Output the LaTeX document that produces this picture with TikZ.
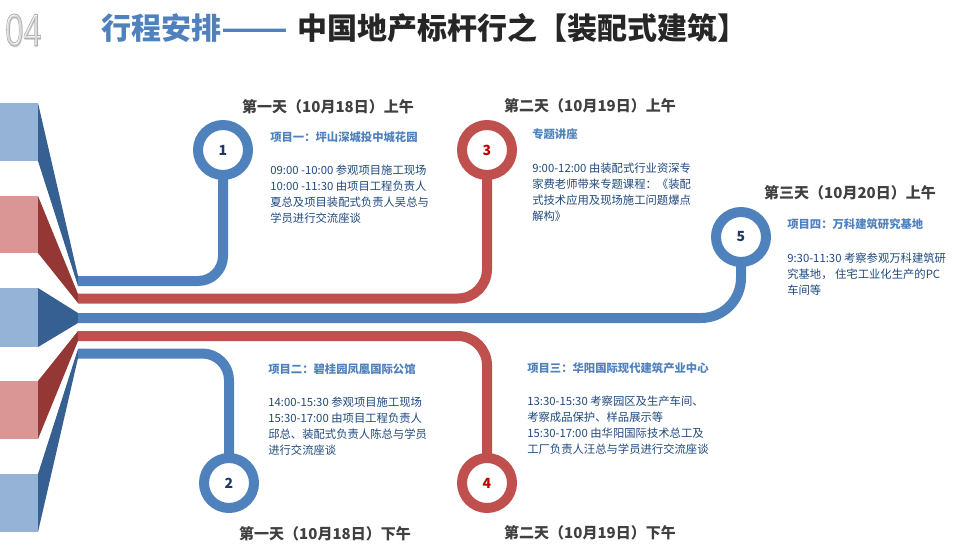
\documentclass[tikz,border=0pt]{standalone}
\usepackage{graphicx}
\usepackage{fontspec}
\setmainfont{Noto Sans CJK SC}
\newfontfamily\numfont{Liberation Sans}
\definecolor{blu}{HTML}{4F81BD}
\definecolor{rd}{HTML}{C0504D}
\definecolor{lblu}{HTML}{95B3D7}
\definecolor{lrd}{HTML}{D99694}
\definecolor{dblu}{HTML}{376092}
\definecolor{drd}{HTML}{953735}
\definecolor{navy}{HTML}{1F3864}
\definecolor{numred}{HTML}{C00000}
\definecolor{daygray}{HTML}{404040}
\definecolor{ttlblack}{HTML}{262626}
\definecolor{bodyblue}{HTML}{1F497D}
\tikzset{
 ring/.style={circle, draw=#1, line width=7.5pt, fill=white, minimum size=37.5pt, inner sep=0pt, outer sep=0pt, font=\bfseries\fontsize{10.5}{12}\selectfont},
 band/.style={draw=#1, line width=7.5pt},
 daylabel/.style={font=\bfseries\fontsize{11.25}{13}\selectfont, text=daygray, inner sep=0pt},
 ptitle/.style={anchor=west, font=\bfseries\fontsize{8.5}{12}\selectfont, text=blu, inner sep=0pt},
 pbody/.style={anchor=north west, align=left, font=\fontsize{8.5}{12}\selectfont, text=bodyblue, inner sep=0pt},
}
\begin{document}
\begin{tikzpicture}[x=0.75pt,y=-0.75pt]
\useasboundingbox (0,0) rectangle (956,556);

% title
\node[anchor=west, inner sep=0pt, font=\bfseries\fontsize{22.5}{24}\selectfont, text=blu] (title1) at (101,28)
  {行程安排\scalebox{1.3}[1]{——}};
\node[anchor=west, inner sep=0pt, font=\bfseries\fontsize{22.5}{24}\selectfont, text=ttlblack] (title2) at (297,28)
  {中国地产标杆行之【装配式建筑】};

% left blocks and wedges
\fill[dblu] (38,103) -- (78,276) -- (78,286) -- (38,161) -- cycle;
\fill[lblu] (0,103) rectangle (38,161);
\fill[drd] (38,196) -- (78,294) -- (78,303) -- (38,253) -- cycle;
\fill[lrd] (0,196) rectangle (38,253);
\fill[dblu] (38,288) -- (78,313) -- (78,323) -- (38,347) -- cycle;
\fill[lblu] (0,288) rectangle (38,347);
\fill[drd] (38,381) -- (78,331) -- (78,341) -- (38,439) -- cycle;
\fill[lrd] (0,381) rectangle (38,439);
\fill[dblu] (38,474) -- (78,349) -- (78,358) -- (38,532) -- cycle;
\fill[lblu] (0,474) rectangle (38,532);

\coordinate (s1) at (78,281);
\coordinate (s2) at (78,298.5);
\coordinate (s3) at (78,318);
\coordinate (s4) at (78,336);
\coordinate (s5) at (78,353.5);

% rings
\node[ring=blu, text=navy] (r1) at (223,150) {1};
\node[ring=rd, text=numred] (r3) at (487,150) {3};
\node[ring=blu, text=navy] (r5) at (741,237) {5};
\node[ring=blu, text=navy] (r2) at (229,483) {2};
\node[ring=rd, text=numred] (r4) at (487,483) {4};

% bands
\draw[band=blu, rounded corners=18.75pt] (s1) -| (r1.south);
\draw[band=rd, rounded corners=22pt] (s2) -| (r3.south);
\draw[band=blu, rounded corners=30pt] (s3) -| (r5.south);
\draw[band=rd, rounded corners=22pt] (s4) -| (r4.north);
\draw[band=blu, rounded corners=20pt] (s5) -| (r2.north);

% day labels
\node[daylabel] (d1) at (328,107) {第一天（10月18日）上午};
\node[daylabel] (d2) at (590,106) {第二天（10月19日）上午};
\node[daylabel] (d3) at (850,193) {第三天（10月20日）上午};
\node[daylabel] (d4) at (325,534) {第一天（10月18日）下午};
\node[daylabel] (d5) at (590,533) {第二天（10月19日）下午};

% project texts
\node[ptitle] (t1) at (270,137) {项目一：坪山深城投中城花园};
\node[pbody] (b1) at (270,165) {09:00 -10:00 参观项目施工现场\\10:00 -11:30 由项目工程负责人\\夏总及项目装配式负责人吴总与\\学员进行交流座谈};

\node[ptitle] (t3) at (532,134) {专题讲座};
\node[pbody] (b3) at (532,163) {9:00-12:00 由装配式行业资深专\\家费老师带来专题课程：《装配\\式技术应用及现场施工问题爆点\\解构》};

\node[ptitle] (t5) at (787,224) {项目四：万科建筑研究基地};
\node[pbody] (b5) at (787,253) {9:30-11:30 考察参观万科建筑研\\究基地， 住宅工业化生产的PC\\车间等};

\node[ptitle] (t2) at (268,369) {项目二：碧桂园凤凰国际公馆};
\node[pbody] (b2) at (268,397) {14:00-15:30 参观项目施工现场\\15:30-17:00 由项目工程负责人\\邱总、装配式负责人陈总与学员\\进行交流座谈};

\node[ptitle] (t4) at (527,368) {项目三：华阳国际现代建筑产业中心};
\node[pbody] (b4) at (527,396) {13:30-15:30 考察园区及生产车间、\\考察成品保护、样品展示等\\15:30-17:00 由华阳国际技术总工及\\工厂负责人汪总与学员进行交流座谈};

% section number
\node[anchor=west, inner sep=0pt, text=gray!30, font=\numfont\fontsize{34}{34}\selectfont] (numshadow) at (6.5,31.5)
  {\scalebox{0.72}[1]{04}};
\node[anchor=west, inner sep=0pt, text=gray!60, font=\numfont\fontsize{34}{34}\selectfont] (num) at (5,30)
  {\scalebox{0.72}[1]{\special{pdf:literal direct 1 Tr 0.7 w}04\special{pdf:literal direct 0 Tr}}};
\end{tikzpicture}
\end{document}
